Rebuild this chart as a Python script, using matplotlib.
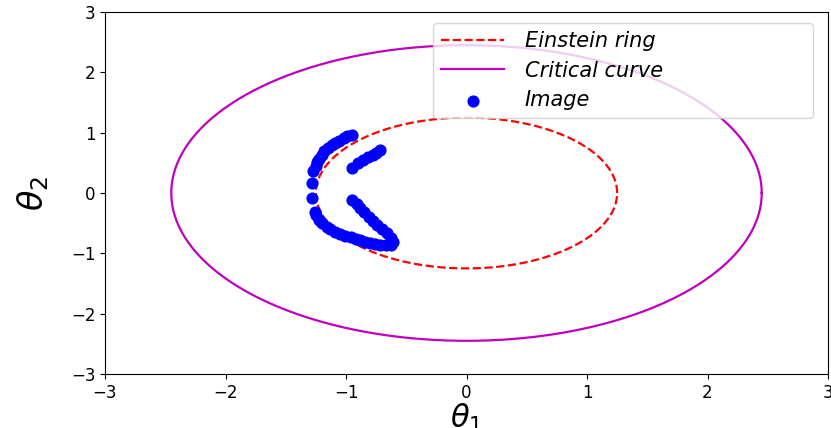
import numpy as np
import matplotlib
matplotlib.use("Agg")
import matplotlib.pyplot as plt

# lens parameters
einstein_r = 1.25
critical_r = 2.45

# image positions (theta_1, theta_2)
img_x = [-0.95, -0.99, -1.02, -1.06, -1.09, -1.12, -1.15, -1.18, -1.20, -1.22,
         -1.24, -1.25, -1.27, -1.28,
         -1.28, -1.26, -1.25, -1.22, -1.20, -1.16, -1.13, -1.09, -1.05, -1.01,
         -0.96, -0.92, -0.88, -0.84, -0.80, -0.76, -0.72, -0.67, -0.63,
         -0.72, -0.75, -0.78, -0.82, -0.86, -0.90, -0.95,
         -0.95, -0.91, -0.88, -0.85, -0.81, -0.78, -0.74, -0.70, -0.66, -0.63, -0.61]
img_y = [0.96, 0.94, 0.91, 0.87, 0.83, 0.79, 0.75, 0.69, 0.63, 0.57,
         0.51, 0.44, 0.37, 0.17,
         -0.08, -0.31, -0.37, -0.45, -0.50, -0.56, -0.60, -0.65, -0.68, -0.71,
         -0.73, -0.76, -0.78, -0.81, -0.83, -0.85, -0.87, -0.87, -0.86,
         0.72, 0.67, 0.63, 0.59, 0.55, 0.50, 0.42,
         -0.12, -0.19, -0.25, -0.32, -0.40, -0.46, -0.53, -0.59, -0.66, -0.74, -0.82]

t = np.linspace(0, 2 * np.pi, 400)

fig = plt.figure(figsize=(8.31, 4.28), dpi=100)
ax = fig.add_axes([105 / 831, 1 - 374 / 428, 723 / 831, 362 / 428])

ax.plot(einstein_r * np.cos(t), einstein_r * np.sin(t), 'r--', lw=1.6, label='Einstein ring')
ax.plot(critical_r * np.cos(t), critical_r * np.sin(t), 'm-', lw=1.6, label='Critical curve')
ax.scatter(img_x, img_y, s=60, c='b', label='Image', zorder=3)

ax.set_xlim(-3, 3)
ax.set_ylim(-3, 3)
ax.set_xticks(range(-3, 4))
ax.set_yticks(range(-3, 4))
ax.tick_params(labelsize=12)
ax.set_xlabel(r'$\theta_1$', fontsize=22, labelpad=0)
ax.set_ylabel(r'$\theta_2$', fontsize=24, labelpad=14)

ax.legend(loc='upper left', bbox_to_anchor=(0.4537, 0.707, 0.5256, 0.2626),
          mode='expand', borderaxespad=0, handlelength=3.0, handletextpad=1.0,
          labelspacing=0.45, prop={'style': 'italic', 'size': 15})

fig.savefig('out.png', dpi=100)
